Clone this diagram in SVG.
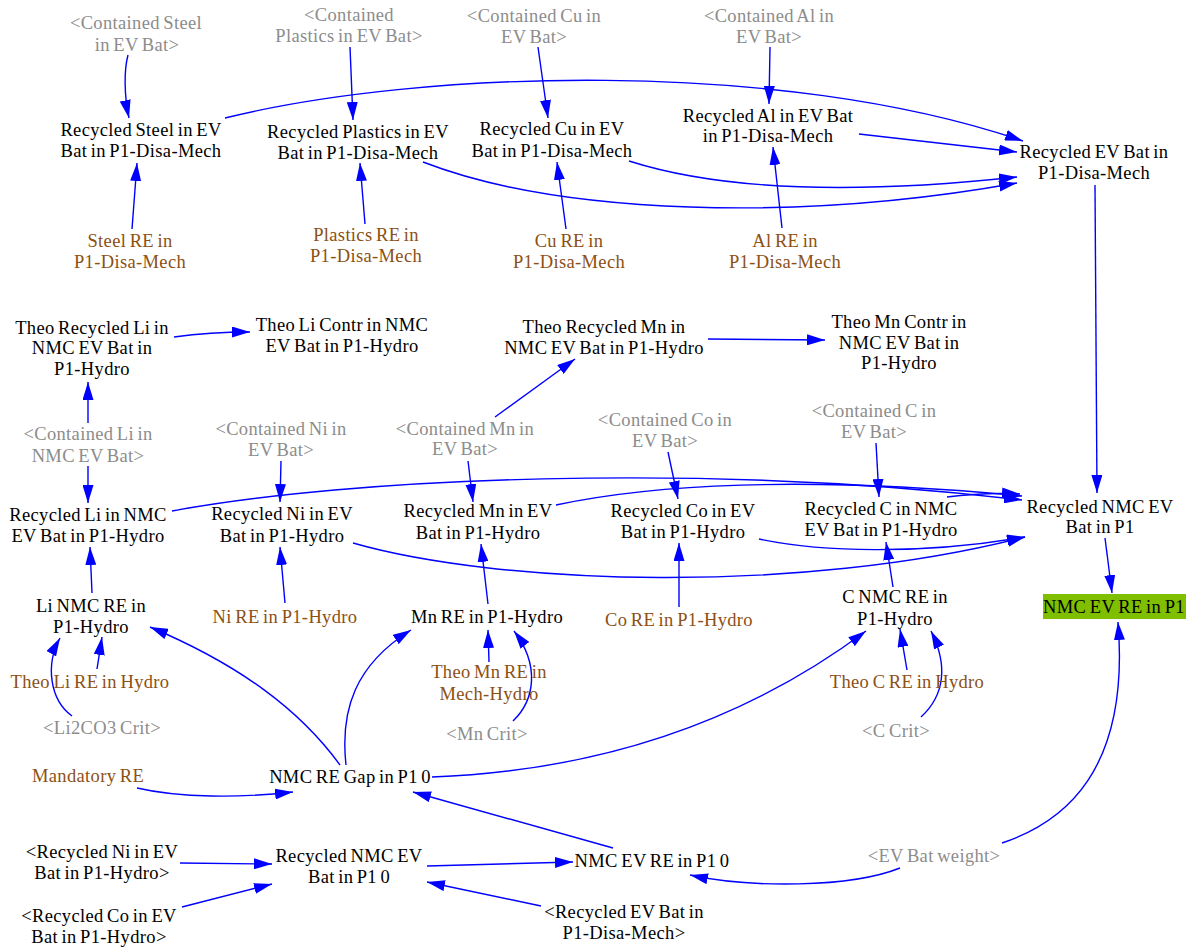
<svg xmlns="http://www.w3.org/2000/svg" width="1191" height="947" viewBox="0 0 1191 947">
<style>
text{font-family:"Liberation Serif","Times New Roman",serif;font-size:18.5px;letter-spacing:0.35px;word-spacing:-1.5px;text-anchor:middle}
.n{fill:#000}
.g{fill:#8c8c8c}
.b{fill:#8c5014}
#links path{fill:none;stroke:#0000ff;stroke-width:1.4;marker-end:url(#a)}
</style>
<defs>
<marker id="a" viewBox="0 0 18 11" markerWidth="18" markerHeight="11" refX="18" refY="5.5" markerUnits="userSpaceOnUse" orient="auto">
<path d="M0,0 L18,5.5 L0,11 z" fill="#0000ff"/>
</marker>
</defs>
<rect width="1191" height="947" fill="#fff"/>
<g id="links">
<path d="M128,55 C124,70 124,95 129,118"/>
<path d="M132,229 L137,163"/>
<path d="M350,47 L353,120"/>
<path d="M365,224 L360,163"/>
<path d="M538,47 L548,118"/>
<path d="M566,229 L557,162"/>
<path d="M770,47 L769,104"/>
<path d="M782,228 L773,147"/>
<path d="M225,118 C420,70 780,58 1023,141"/>
<path d="M859,134 L1017,152"/>
<path d="M629,161 C720,190 850,195 1017,177"/>
<path d="M423,162 C560,215 800,222 1017,183"/>
<path d="M1095,185 L1097,493"/>
<path d="M1105,538 L1112,593"/>
<path d="M174,337 Q210,332 250,332"/>
<path d="M88,423 L88,382"/>
<path d="M88,466 L88,503"/>
<path d="M281,461 L280,502"/>
<path d="M495,417 L575,359"/>
<path d="M708,339 L825,340"/>
<path d="M468,461 L473,502"/>
<path d="M668,452 L678,499"/>
<path d="M876,443 L879,497"/>
<path d="M172,511 C350,478 700,462 1022,500"/>
<path d="M556,505 C650,485 800,475 1022,496"/>
<path d="M947,497 Q985,492 1020,494"/>
<path d="M353,543 C500,585 800,595 1025,537"/>
<path d="M759,539 C820,552 920,555 1025,537"/>
<path d="M285,603 L280,547"/>
<path d="M92,593 L90,547"/>
<path d="M488,604 L481,544"/>
<path d="M679,607 L679,543"/>
<path d="M893,587 L886,542"/>
<path d="M97,669 L102,637"/>
<path d="M72,716 C50,700 45,665 60,638"/>
<path d="M340,765 C300,710 240,665 150,627"/>
<path d="M346,765 C340,710 355,665 411,630"/>
<path d="M432,777 C620,770 760,710 866,631"/>
<path d="M137,788 C180,798 240,798 293,792"/>
<path d="M613,848 L413,792"/>
<path d="M489,662 L488,630"/>
<path d="M513,721 C535,700 540,665 514,631"/>
<path d="M907,670 L900,629"/>
<path d="M921,717 C945,695 948,665 931,631"/>
<path d="M1002,843 C1065,822 1130,770 1118,622"/>
<path d="M900,868 C850,888 750,888 690,875"/>
<path d="M427,866 L573,862"/>
<path d="M180,863 L272,864"/>
<path d="M182,907 L272,884"/>
<path d="M541,906 L427,882"/>
</g>
<g id="contained-steel"><text class="g" x="136" y="29">&lt;Contained Steel</text><text class="g" x="137" y="51">in EV Bat&gt;</text></g>
<g id="recycled-steel"><text class="n" x="141" y="136">Recycled Steel in EV</text><text class="n" x="141" y="157">Bat in P1-Disa-Mech</text></g>
<g id="steel-re"><text class="b" x="130" y="247">Steel RE in</text><text class="b" x="130" y="268">P1-Disa-Mech</text></g>
<g id="contained-plastics"><text class="g" x="349" y="21">&lt;Contained</text><text class="g" x="349" y="42">Plastics in EV Bat&gt;</text></g>
<g id="recycled-plastics"><text class="n" x="358" y="138">Recycled Plastics in EV</text><text class="n" x="358" y="159">Bat in P1-Disa-Mech</text></g>
<g id="plastics-re"><text class="b" x="366" y="241">Plastics RE in</text><text class="b" x="366" y="262">P1-Disa-Mech</text></g>
<g id="contained-cu"><text class="g" x="534" y="22">&lt;Contained Cu in</text><text class="g" x="534" y="43">EV Bat&gt;</text></g>
<g id="recycled-cu"><text class="n" x="552" y="135">Recycled Cu in EV</text><text class="n" x="552" y="157">Bat in P1-Disa-Mech</text></g>
<g id="cu-re"><text class="b" x="569" y="247">Cu RE in</text><text class="b" x="569" y="268">P1-Disa-Mech</text></g>
<g id="contained-al"><text class="g" x="769" y="22">&lt;Contained Al in</text><text class="g" x="769" y="43">EV Bat&gt;</text></g>
<g id="recycled-al"><text class="n" x="768" y="122">Recycled Al in EV Bat</text><text class="n" x="768" y="142">in P1-Disa-Mech</text></g>
<g id="al-re"><text class="b" x="785" y="247">Al RE in</text><text class="b" x="785" y="268">P1-Disa-Mech</text></g>
<g id="recycled-ev-bat"><text class="n" x="1094" y="158">Recycled EV Bat in</text><text class="n" x="1094" y="179">P1-Disa-Mech</text></g>
<g id="theo-recycled-li"><text class="n" x="92" y="334">Theo Recycled Li in</text><text class="n" x="92" y="354">NMC EV Bat in</text><text class="n" x="92" y="375">P1-Hydro</text></g>
<g id="theo-li-contr"><text class="n" x="342" y="331">Theo Li Contr in NMC</text><text class="n" x="342" y="352">EV Bat in P1-Hydro</text></g>
<g id="theo-recycled-mn"><text class="n" x="604" y="333">Theo Recycled Mn in</text><text class="n" x="604" y="354">NMC EV Bat in P1-Hydro</text></g>
<g id="theo-mn-contr"><text class="n" x="899" y="328">Theo Mn Contr in</text><text class="n" x="899" y="349">NMC EV Bat in</text><text class="n" x="899" y="369">P1-Hydro</text></g>
<g id="contained-li"><text class="g" x="88" y="440">&lt;Contained Li in</text><text class="g" x="88" y="462">NMC EV Bat&gt;</text></g>
<g id="contained-ni"><text class="g" x="281" y="435">&lt;Contained Ni in</text><text class="g" x="281" y="456">EV Bat&gt;</text></g>
<g id="contained-mn"><text class="g" x="465" y="435">&lt;Contained Mn in</text><text class="g" x="465" y="455">EV Bat&gt;</text></g>
<g id="contained-co"><text class="g" x="665" y="426">&lt;Contained Co in</text><text class="g" x="665" y="447">EV Bat&gt;</text></g>
<g id="contained-c"><text class="g" x="874" y="417">&lt;Contained C in</text><text class="g" x="874" y="438">EV Bat&gt;</text></g>
<g id="recycled-li"><text class="n" x="88" y="521">Recycled Li in NMC</text><text class="n" x="88" y="542">EV Bat in P1-Hydro</text></g>
<g id="recycled-ni"><text class="n" x="282" y="520">Recycled Ni in EV</text><text class="n" x="282" y="542">Bat in P1-Hydro</text></g>
<g id="recycled-mn"><text class="n" x="478" y="517">Recycled Mn in EV</text><text class="n" x="478" y="539">Bat in P1-Hydro</text></g>
<g id="recycled-co"><text class="n" x="683" y="517">Recycled Co in EV</text><text class="n" x="683" y="538">Bat in P1-Hydro</text></g>
<g id="recycled-c"><text class="n" x="881" y="515">Recycled C in NMC</text><text class="n" x="881" y="536">EV Bat in P1-Hydro</text></g>
<g id="recycled-nmc"><text class="n" x="1100" y="513">Recycled NMC EV</text><text class="n" x="1100" y="533">Bat in P1</text></g>
<g id="li-nmc-re"><text class="n" x="91" y="612">Li NMC RE in</text><text class="n" x="91" y="633">P1-Hydro</text></g>
<g id="ni-re"><text class="b" x="285" y="623">Ni RE in P1-Hydro</text></g>
<g id="mn-re"><text class="n" x="487" y="623">Mn RE in P1-Hydro</text></g>
<g id="co-re"><text class="b" x="679" y="626">Co RE in P1-Hydro</text></g>
<g id="c-nmc-re"><text class="n" x="895" y="603">C NMC RE in</text><text class="n" x="895" y="625">P1-Hydro</text></g>
<g id="nmc-ev-re-p1"><rect x="1043" y="594" width="143" height="25" fill="#7fbf00"/><text class="n" x="1114" y="613">NMC EV RE in P1</text></g>
<g id="theo-li-re"><text class="b" x="90" y="688">Theo Li RE in Hydro</text></g>
<g id="theo-mn-re"><text class="b" x="489" y="678">Theo Mn RE in</text><text class="b" x="489" y="700">Mech-Hydro</text></g>
<g id="theo-c-re"><text class="b" x="907" y="688">Theo C RE in Hydro</text></g>
<g id="li2co3-crit"><text class="g" x="102" y="734">&lt;Li2CO3 Crit&gt;</text></g>
<g id="mn-crit"><text class="g" x="487" y="740">&lt;Mn Crit&gt;</text></g>
<g id="c-crit"><text class="g" x="896" y="737">&lt;C Crit&gt;</text></g>
<g id="mandatory-re"><text class="b" x="88" y="782">Mandatory RE</text></g>
<g id="nmc-re-gap"><text class="n" x="350" y="783">NMC RE Gap in P1 0</text></g>
<g id="recycled-ni-shadow"><text class="n" x="102" y="858">&lt;Recycled Ni in EV</text><text class="n" x="102" y="879">Bat in P1-Hydro&gt;</text></g>
<g id="recycled-nmc-0"><text class="n" x="349" y="862">Recycled NMC EV</text><text class="n" x="349" y="883">Bat in P1 0</text></g>
<g id="recycled-co-shadow"><text class="n" x="99" y="922">&lt;Recycled Co in EV</text><text class="n" x="99" y="943">Bat in P1-Hydro&gt;</text></g>
<g id="nmc-ev-re-0"><text class="n" x="652" y="867">NMC EV RE in P1 0</text></g>
<g id="recycled-ev-bat-shadow"><text class="n" x="624" y="918">&lt;Recycled EV Bat in</text><text class="n" x="624" y="939">P1-Disa-Mech&gt;</text></g>
<g id="ev-bat-weight"><text class="g" x="934" y="862">&lt;EV Bat weight&gt;</text></g>
</svg>
